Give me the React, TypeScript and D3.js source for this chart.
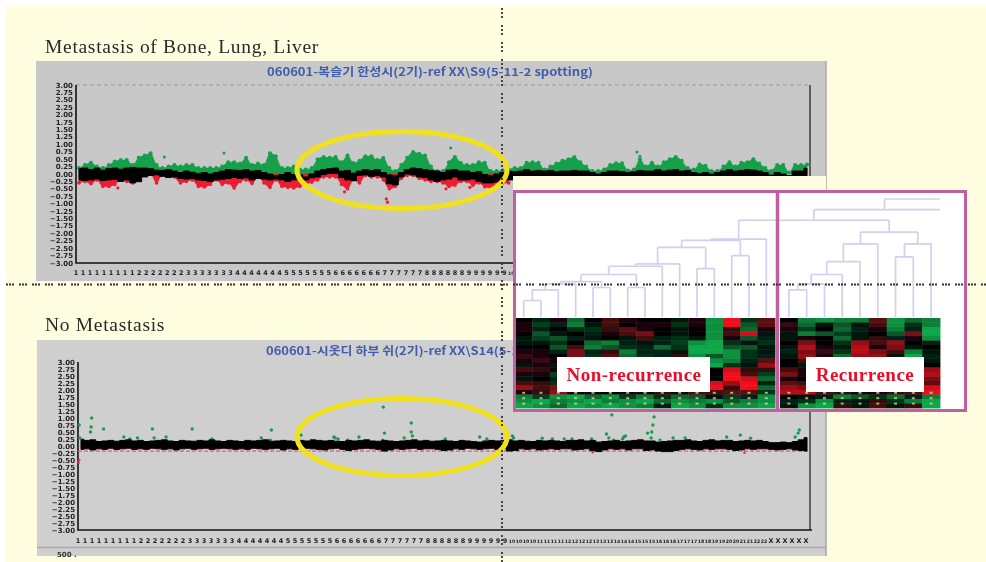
import React from "react";
import * as d3 from "d3";

// log ratio per genome bin
const topUpper = [.18,.2,.15,.2,.13,.18,.2,.16,.2,.22,.2,.2,.18,.13,.12,.15,.1,.05,.1,.06,.02,.05,0,.05,.1,.15,.13,.12,.15,.1,.12,.05,0,-.05,-.02,.05,-.02,-.03,-.1,0,.1,.15,.18,.2,.1,.12,.03,.1,.15,.12,.15,.05,-.03,-.05,.05,.15,.2,.18,.15,.12,.1,.05,.13,.15,.1,.1,.05,.08,-.02,-.05,0,.05,.1,.08,.1,.15,.1,.12,.1,.12,.08,.1,.1,.12,.1,.1,.05,0,.05,.1,.1,.08,.05,.08,.12,.1,.1,.15,.1,.13,.15,.1,.12,.05,.02,.05,0,.05,.1,.15,.1,.12,.15,.13,.1,.05,-.03,.05,0,-.05,.1,.1,.2];
const topLower = [-.2,-.22,-.2,-.17,-.22,-.2,-.18,-.25,-.2,-.3,-.26,-.1,-.05,-.03,-.08,-.12,-.1,-.15,-.17,-.15,-.2,-.22,-.25,-.2,-.18,-.15,-.12,-.15,-.13,-.2,-.15,-.17,-.2,-.17,-.2,-.25,-.2,-.15,-.2,-.13,-.1,-.02,.02,.02,-.12,-.2,-.22,-.05,-.03,-.08,-.05,-.1,-.33,-.37,-.1,0,-.03,-.1,-.12,-.2,-.25,-.2,-.17,-.1,-.2,-.2,-.17,-.25,-.3,-.3,-.27,-.12,-.2,-.2,-.18,-.2,-.2,-.22,-.2,-.2,-.18,-.2,-.2,-.2,-.22,-.2,-.2,-.18,-.2,-.2,-.2,-.2,-.22,-.2,-.2,-.18,-.2,-.2,-.22,-.2,-.2,-.2,-.2,-.18,-.2,-.2,-.2,-.2,-.22,-.2,-.2,-.2,-.2,-.18,-.2,-.2,-.2,-.2,-.2,-.2,-.22,-.2,-.2];
const topGreen = [.2,.3,.38,.25,.2,.3,.42,.47,.47,.3,.55,.62,.7,.3,.2,.25,.3,.25,.3,.3,.2,.2,.2,.2,.25,.4,.4,.35,.55,.3,.35,.3,.7,.6,.2,.2,.25,.15,.15,.2,.5,.57,.55,.57,.4,.62,.37,.45,.6,.6,.47,.54,.2,.1,.3,.55,.74,.68,.62,.25,.1,.1,.4,.57,.37,.3,.3,.4,.38,.1,.1,.12,.15,.2,.2,.38,.4,.38,.15,.25,.35,.45,.5,.57,.4,.25,.1,.1,.15,.3,.36,.36,.12,.15,.5,.25,.38,.25,.4,.5,.57,.45,.2,.15,.32,.28,.1,.1,.25,.4,.25,.38,.4,.5,.35,.2,.1,.3,.3,.05,.3,.3,.32];
const topRed = [-.3,-.25,-.33,-.2,-.42,-.42,-.35,-.2,-.25,-.3,-.1,0,0,-.3,0,0,-.1,-.3,-.25,-.2,-.42,-.44,-.35,-.2,-.35,-.3,-.47,-.25,-.2,-.32,-.1,-.3,-.45,-.2,-.42,-.45,-.47,-.42,-.35,-.28,-.2,-.1,-.1,-.1,-.35,-.5,-.2,-.3,-.05,-.1,-.1,-.2,-.5,-.42,-.15,-.05,-.05,-.15,-.2,-.25,-.25,-.3,-.42,-.38,-.25,-.25,-.38,-.3,-.43,-.47,-.42,-.3,-.3];
const topGreenBin = [14.8, 24.8, 62.8, 94, 94.5];
const topGreenVal = [.57, .71, .88, .74, .6];
const topRedBin = [7, 52, 52.2, 45, 62, 66];
const topRedVal = [-.47, -.84, -.95, -.6, -.5, -.45];

const botUpper = [.24,.2,.22,.16,.18,.2,.17,.2,.22,.18,.2,.16,.18,.2,.22,.18,.16,.2,.18,.17,.2,.18,.22,.18,.16,.2,.18,.16,.2,.18,.2,.22,.17,.18,.2,.18,.16,.2,.18,.22,.2,.18,.2,.17,.16,.2,.18,.2,.22,.18,.17,.2,.18,.16,.18,.2,.22,.18,.2,.17,.18,.2,.18,.16,.2,.18,.16,.14,.18,.2,.18,.2,.22,.18,.2,.17,.16,.2,.18,.2,.18,.16,.2,.2,.22,.18,.2,.14,.16,.18,.2,.16,.18,.2,.22,.18,.18,.14,.16,.18,.2,.2,.22,.18,.16,.2,.22,.18,.2,.2,.16,.18,.2,.18,.2,.16,.12,.12,.14,.12,.16,.22,.3];
const botLower = [-.12,-.1,-.14,-.1,-.12,-.08,-.12,-.1,-.08,-.12,-.1,-.12,-.08,-.1,-.12,-.1,-.14,-.1,-.08,-.12,-.1,-.08,-.12,-.1,-.08,-.1,-.12,-.1,-.12,-.08,-.1,-.12,-.1,-.08,-.14,-.1,-.12,-.1,-.08,-.1,-.12,-.14,-.1,-.08,-.12,-.16,-.12,-.1,-.08,-.1,-.12,-.18,-.14,-.1,-.12,-.1,-.08,-.12,-.1,-.1,-.12,-.16,-.14,-.1,-.12,-.08,-.1,-.12,-.1,-.08,-.12,-.1,-.18,-.16,-.1,-.12,-.1,-.14,-.12,-.1,-.12,-.1,-.1,-.14,-.12,-.1,-.16,-.2,-.14,-.1,-.12,-.1,-.14,-.1,-.1,-.16,-.14,-.18,-.2,-.2,-.16,-.12,-.1,-.12,-.14,-.1,-.12,-.1,-.1,-.12,-.16,-.14,-.1,-.12,-.1,-.1,-.12,-.14,-.12,-.1,-.14,-.16,-.18];
const botGreenBin = [.2,2.3,2.2,2.1,4.3,.3,7.7,8.7,10,12.5,12.8,14.8,19.2,22.5,30.8,32.3,32.5,37.5,43,43.2,43.7,45.3,47.2,51.2,51.3,51.5,56,56,56.2,54.8,61.7,67.5,68.7,73,73.2,78,79.7,81.7,83,86.3,89.7,88.8,89.2,90,91.7,91.5,92,96.8,96.6,96.4,95.7,96.3,97.8,100,102,109,111.3,113,121,121.2,120.5];
const botGreenVal = [.75,1,.68,.5,.61,.29,.32,.25,.29,.61,.29,.32,.61,.25,.29,.21,.57,.39,.32,.29,.25,.21,.32,.21,1.39,.46,.82,.5,.36,.29,.25,.32,.25,.36,.29,.28,.25,.25,.25,.25,1.11,.43,.29,.21,.32,.25,.36,1.04,.75,.5,.46,.29,.21,.29,.29,.32,.39,.28,.46,.57,.32];
const botRedBin = [.1, .2, 86.5, 112];
const botRedVal = [-.6, -.5, -.22, -.24];

const chromNames = ["1","2","3","4","5","6","7","8","9","10","11","12","13","14","15","16","17","18","19","20","21","22","X"];
const chromCounts = [9,7,7,7,7,7,6,6,6,4,4,4,3,3,3,3,3,2,2,2,2,2,6];

// expression, tenths of fold, columns 0-14 non recurrence, 15-23 recurrence
const heatRows = [
  [0,-2,1,-6,0,3,1,0,0,-1,1,-8,9,-3,4, 0,-7,-8,-7,-7,4,-8,-6,-7],
  [1,-4,-2,-7,-1,3,0,1,1,-3,1,-8,9,-5,4, 2,-6,-1,-5,-1,3,-8,-3,-7],
  [1,-2,0,-3,-3,2,4,1,0,-1,0,-8,2,-6,1, 1,-4,0,-6,-2,1,-7,-2,-9],
  [0,-5,-1,0,-2,1,3,5,0,-1,0,-8,3,8,-1, -1,-7,-5,-4,-1,0,-5,5,-9],
  [-1,-4,-5,-2,-1,0,-1,3,-2,-3,-1,-8,1,-5,-2, -1,1,0,-6,-1,2,-2,1,-8],
  [-1,-1,-3,0,-6,-7,-2,-1,-2,-4,-8,-9,-3,-1,-3, 0,5,0,-3,6,3,6,0,-2],
  [0,0,-5,3,-7,-5,-3,-2,-6,-3,-9,-9,-5,-5,-1, -1,7,1,-1,7,1,5,-1,0],
  [1,1,-2,5,-2,2,-7,-2,-2,-1,-9,-9,-8,-3,-1, -2,5,2,-3,7,5,3,-7,-1],
  [2,1,0,5,-3,4,-6,-3,-2,2,-8,-5,-8,-3,-2, -1,6,1,-6,6,6,-1,-9,-2],
  [1,2,1,-1,-4,2,-2,-7,-5,3,-9,-8,-7,-2,4, 0,3,1,-3,5,-3,0,-9,-1],
  [-1,1,-1,0,-1,0,0,-7,-7,-2,-9,-9,-3,-1,6, 0,-1,0,-2,0,-1,0,-3,0],
  [3,2,1,1,1,1,1,0,0,0,-2,0,8,2,2, 3,1,2,1,1,1,1,2,6],
  [1,1,-4,1,0,0,1,0,1,0,2,0,9,3,-4, 5,1,0,0,1,1,0,1,7],
  [-1,0,-2,1,1,0,0,1,0,1,4,0,9,8,-6, 1,0,1,1,0,1,1,0,5],
  [3,2,-3,1,1,1,2,1,1,1,6,8,6,9,-2, 4,3,1,1,1,0,1,1,4],
  [6,3,5,2,1,1,1,2,1,2,5,9,2,9,-6, 6,5,2,1,1,2,1,2,8],
  [1,2,6,1,1,0,1,1,2,1,3,3,4,4,-3, 7,7,3,2,1,1,2,3,9],
  [-7,-4,-8,-9,-6,-8,-4,-7,-3,-6,-5,-1,-4,-2,-8, 0,-1,-2,-7,-5,-3,-6,-2,-7],
  [-8,-9,-7,-8,-9,-7,-8,-9,-6,-8,-7,-8,-5,-7,-8, -2,-3,-8,-2,-1,2,-3,-7,-9],
  [-9,-8,-6,-9,-8,-9,-8,-7,-2,-9,-8,-3,-8,-8,-9, -1,-8,-9,2,-1,3,-1,2,-9],
];
const speckRows = [16.4, 17.6, 18.8];

const nonRecurrenceLabel = "Non-recurrence";
const recurrenceLabel = "Recurrence";

// nested merges: [height, left, right], a number is a column, "s" runs off to the right
const leftBranch = [.66, [.65, [.59, [.45, [.43, [.36, [.30, [.28, [.23, [.14, 0, 1], 2], 3], [.25, 4, 5]], [.25, 6, 7]], 8], 9], [.41, 10, 11]], [.52, 12, 13]], 14];
const rightBranch = [.72, [.62, [.47, [.36, [.28, [.23, 15, 16], 17], 18], 19], 20], [.62, [.51, 21, 22], 23]];
const dendrogram = [1, [.91, [.82, leftBranch, rightBranch], "s"], "s"];

const W = 986;
const H = 562;
const yTicks = d3.range(-3, 3.001, 0.25);

const xLabels = chromNames.flatMap((c, i) => d3.range(chromCounts[i]).map(() => c));

const Band = ({ upper, lower, x, y, fill, curve, edge }: any) => {
  const area = d3.area<number>()
    .x((_, i) => x(i + 0.5))
    .y0((_, i) => y(lower[i]))
    .y1((d) => y(d))
    .curve(curve);
  return <path d={area(upper) as string} fill={fill} stroke={fill} strokeWidth={edge} strokeLinejoin="round" />;
};

const Dots = ({ bins, vals, x, y, fill, r }: any) => (
  <g fill={fill}>
    {bins.map((b: number, i: number) => <circle key={i} cx={x(b)} cy={y(vals[i])} r={r} />)}
  </g>
);

const Frame = ({ x, y, titleX, titleY, title, titleLen, labelY }: any) => {
  const xl = d3.scalePoint<number>().domain(xLabels.map((_, i) => i)).range([x.range()[0], x.range()[1] - 4]);
  const [x0, x1] = x.range();
  const [y1, y0] = y.range();
  return (
    <g>
      <text x={titleX} y={titleY} fontFamily="'Noto Sans CJK KR', 'DejaVu Sans', sans-serif" fontSize={11} fontWeight={700} fill="#3f5cab" textLength={titleLen} lengthAdjust="spacingAndGlyphs">{title}</text>
      <g fontFamily="'DejaVu Sans', sans-serif" fontSize={7} fontWeight={700} fill="#222" textAnchor="end">
        {yTicks.map((t) => <text key={t} x={x0 - 3} y={y(t) + 2.5}>{d3.format(".2f")(t)}</text>)}
      </g>
      <g fontFamily="'DejaVu Sans', sans-serif" fontWeight={700} fill="#222" textAnchor="middle">
        {xLabels.map((c, i) => <text key={i} x={xl(i)} y={labelY} fontSize={c.length > 1 ? 4.6 : 6.5}>{c}</text>)}
      </g>
      <path d={`M${x0},${y0}V${y1}H${x1 + 2}`} fill="none" stroke="#111" strokeWidth={1.6} />
      <path d={`M${x1},${y1}V${y0}`} fill="none" stroke="#333" strokeWidth={1.4} />
    </g>
  );
};

const Dendro = ({ colX, y }: any) => {
  const segs: string[] = [];
  const walk = (node: any): number => {
    if (typeof node === "number") return colX(node);
    const [h, a, b] = node;
    const ax = walk(a);
    const yy = y(h);
    if (typeof a !== "number") segs.push(`M${ax},${y(a[0])}V${yy}`);
    else segs.push(`M${ax},${y(0)}V${yy}`);
    if (b === "s") {
      segs.push(`M${ax},${yy}H940`);
      return ax + (940 - ax) * 0.56;
    }
    const bx = walk(b);
    if (typeof b !== "number") segs.push(`M${bx},${y(b[0])}V${yy}`);
    else segs.push(`M${bx},${y(0)}V${yy}`);
    segs.push(`M${ax},${yy}H${bx}`);
    return (ax + bx) / 2;
  };
  walk(dendrogram);
  return <path d={segs.join("")} fill="none" stroke="#d2d0ec" strokeWidth={1.7} />;
};

export default function App() {
  const xTop = d3.scaleLinear().domain([0, topUpper.length]).range([76, 810]);
  const yTop = d3.scaleLinear().domain([-3, 3]).range([263, 85]);
  const xBot = d3.scaleLinear().domain([0, botUpper.length]).range([78, 810]);
  const yBot = d3.scaleLinear().domain([-3, 3]).range([530, 362]);

  const colLeft = d3.scaleBand<number>().domain(d3.range(15)).range([515, 775]);
  const colRight = d3.scaleBand<number>().domain(d3.range(15, 24)).range([780, 940]);
  const colX0 = (c: number) => (c < 15 ? (colLeft(c) as number) : (colRight(c) as number));
  const colW = (c: number) => (c < 15 ? colLeft.bandwidth() : colRight.bandwidth());
  const colX = (c: number) => colX0(c) + colW(c) / 2;
  const rowY = d3.scaleBand<number>().domain(d3.range(heatRows.length)).range([318, 408]);
  const heatColor = d3.scaleLinear<string>().domain([-9, -4, 0, 4, 9]).range(["#0aa648", "#063f1e", "#050505", "#5c0a10", "#f2101f"]);
  const treeY = d3.scaleLinear().domain([0, 1]).range([317, 199]);
  const binMids = topGreen.map((_, i) => i + 0.5);
  const redMids = topRed.map((_, i) => i + 0.5);

  return (
    <svg width={W} height={H} style={{ position: "absolute", left: 0, top: 0 }}>
      <defs>
        <filter id="scan" x="-2%" y="-2%" width="104%" height="104%"><feGaussianBlur stdDeviation={0.7} /></filter>
        <filter id="soft" x="-2%" y="-2%" width="104%" height="104%"><feGaussianBlur stdDeviation={0.4} /></filter>
      </defs>
      <rect width={W} height={H} fill="#fff" />
      <rect x={5} y={5} width={W - 5} height={H - 5} fill="#fefde0" />

      <g fontFamily="'Liberation Serif', serif" fontSize={19.5} fill="#2a2a2a" letterSpacing={0.7} filter="url(#soft)">
        <text x={45} y={53}>Metastasis of Bone, Lung, Liver</text>
        <text x={45} y={331}>No Metastasis</text>
      </g>

      <g filter="url(#scan)">
        <rect x={36} y={61} width={790} height={220} fill="#c8c8c8" />
        <path d="M826,61V281" stroke="#a8a8a8" strokeWidth={1.5} />
        <rect x={37} y={340} width={789} height={216} fill="#cfcfcf" />
        <path d="M37,547.5H826M826,340V556" stroke="#a9a9a9" strokeWidth={1.6} />
        <text x={57} y={557} fontFamily="'DejaVu Sans', sans-serif" fontSize={7} fontWeight={700} fill="#333">500 .</text>

        <path d={`M76,${yTop(3)}H810`} stroke="#999" strokeWidth={1} strokeDasharray="4,3" />
        <Frame x={xTop} y={yTop} titleX={267} titleY={76} titleLen={326} labelY={275} title="060601-복슬기 한성시(2기)-ref XX\S9(5-11-2 spotting)" />
        <Band upper={topGreen} lower={topGreen.map(() => 0)} x={xTop} y={yTop} fill="#12a04a" curve={d3.curveMonotoneX} edge={0.5} />
        <Band upper={topRed} lower={topRed.map(() => 0)} x={xTop} y={yTop} fill="#ee1c30" curve={d3.curveMonotoneX} edge={0.5} />
        <Dots bins={binMids} vals={topGreen} x={xTop} y={yTop} fill="#12a04a" r={2} />
        <Dots bins={redMids} vals={topRed} x={xTop} y={yTop} fill="#ee1c30" r={1.8} />
        <Dots bins={topGreenBin} vals={topGreenVal} x={xTop} y={yTop} fill="#12a04a" r={1.5} />
        <Dots bins={topRedBin} vals={topRedVal} x={xTop} y={yTop} fill="#ee1c30" r={1.6} />
        <Band upper={topUpper} lower={topLower} x={xTop} y={yTop} fill="#050505" curve={d3.curveStep} edge={1} />

        <Frame x={xBot} y={yBot} titleX={266} titleY={355} titleLen={334} labelY={543} title="060601-시옷디 하부 쉬(2기)-ref XX\S14(5-11-2 spotting)" />
        <path d={`M78,${yBot(-.18)}H810`} stroke="#ec5a72" strokeWidth={1.2} strokeDasharray="4,2" />
        <Dots bins={botGreenBin} vals={botGreenVal} x={xBot} y={yBot} fill="#1a9a50" r={1.7} />
        <Dots bins={botRedBin} vals={botRedVal} x={xBot} y={yBot} fill="#e8304a" r={1.3} />
        <Band upper={botUpper} lower={botLower} x={xBot} y={yBot} fill="#050505" curve={d3.curveStep} edge={1} />
      </g>

      <g fill="none" stroke="#f1e01a" strokeWidth={5} filter="url(#soft)">
        <ellipse cx={402} cy={170} rx={105} ry={38.5} />
        <ellipse cx={402} cy={437} rx={105} ry={38.5} />
      </g>

      <rect x={513} y={176} width={313} height={14} fill="#fefde0" />
      <rect x={513} y={190} width={454} height={222} fill="#fff" />

      <g filter="url(#soft)">
        <Dendro colX={colX} y={treeY} />
      </g>
      <g filter="url(#scan)">
        {heatRows.map((row, r) =>
          row.map((v, c) => (
            <rect key={`${r}-${c}`} x={colX0(c)} y={rowY(r)} width={colW(c) + 0.4} height={rowY.bandwidth() + 0.4} fill={heatColor(v)} />
          ))
        )}
        <g fill="#e6d79a" opacity={0.75}>
          {speckRows.flatMap((s) =>
            d3.range(24).map((c) => <rect key={`${s}-${c}`} x={colX(c) - 1.5} y={rowY(0)! + s * rowY.step()} width={3} height={2} />)
          )}
        </g>
      </g>
      <g filter="url(#soft)">
        <rect x={514.5} y={191.5} width={451} height={219} fill="none" stroke="#c25f9f" strokeWidth={3} />
        <path d="M777.5,190V412" stroke="#c25f9f" strokeWidth={3.5} />
      </g>

      <rect x={557} y={357} width={153} height={35} fill="#fff" />
      <rect x={806} y={357} width={118} height={35} fill="#fff" />
      <g fontFamily="'Liberation Serif', serif" fontSize={19} fontWeight={700} fill="#e8102a" textAnchor="middle" letterSpacing={0.5} filter="url(#soft)">
        <text x={634} y={381}>{nonRecurrenceLabel}</text>
        <text x={865} y={381}>{recurrenceLabel}</text>
      </g>

      <g stroke="#333" strokeWidth={1.8} fill="none" filter="url(#soft)">
        <path d="M6,284.5H986" strokeDasharray="2,1,2,1,2,5" />
        <path d="M502,8V562" strokeDasharray="2,2,2,2,2,7" />
      </g>
    </svg>
  );
}
